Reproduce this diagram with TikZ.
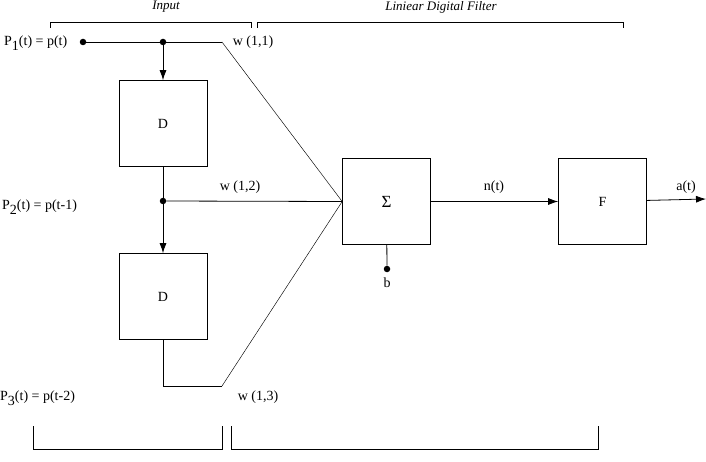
\documentclass[tikz,border=0pt]{standalone}
\usepackage{fontspec}
\setmainfont{Liberation Serif}
\usetikzlibrary{arrows.meta}

\begin{document}
\begin{tikzpicture}[
  x=1pt, y=-1pt,
  font=\fontsize{14}{16}\selectfont,
  block/.style={rectangle, draw, line width=0.6pt, minimum width=88pt, minimum height=86pt, inner sep=0pt},
  dot/.style={circle, fill, inner sep=0pt, minimum size=6.5pt},
  line/.style={draw, line width=0.8pt},
  arrow/.style={draw, line width=0.8pt, -{Latex[length=10pt,width=7pt]}},
  wire/.style={draw, line width=0.45pt},
  brace/.style={draw, line width=0.7pt},
  title/.style={font=\fontsize{13}{15}\selectfont\itshape}
]
\useasboundingbox (0,0) rectangle (706,462);

\node [block] (d1) at (163,123.5) {D};
\node [block] (d2) at (163,296.5) {D};
\node [block] (sum) at (386.5,201.5) {\fontsize{17}{19}\selectfont Σ};
\node [block] (f) at (602.5,201.5) {F};

\node [dot] (in) at (83,42) {};
\node [dot] (j1) at (163,42) {};
\node [dot] (j2) at (163,201) {};
\node [dot] (b) at (387,269) {};
\coordinate (k1) at (222,42);
\coordinate (k3a) at (163,386);
\coordinate (k3) at (222,386);
\coordinate (out) at (706,199);

\node [anchor=west, inner sep=0pt] (p1) at (4,43) {P\raisebox{-5pt}{1}(t) = p(t)};
\node [anchor=west, inner sep=0pt] (p2) at (2,207) {P\raisebox{-5pt}{2}(t) = p(t-1)};
\node [anchor=west, inner sep=0pt] (p3) at (0,398) {P\raisebox{-5pt}{3}(t) = p(t-2)};
\node (w11) at (253,42) {w (1,1)};
\node (w12) at (240,187) {w (1,2)};
\node (w13) at (258,397) {w (1,3)};
\node (nt) at (494,187) {n(t)};
\node (at) at (686,187) {a(t)};
\node (bl) at (387,283) {b};
\node [title] (inp) at (166,7) {Input};
\node [title] (ldf) at (441,7) {Liniear Digital Filter};

\path [line] (in) -- (j1) -- (k1);
\path [wire] (k1) -- (sum.west);
\path [arrow] (j1) -- (d1);
\path [line] (d1) -- (j2);
\path [arrow] (j2) -- (d2);
\path [line] (j2) -- (sum.west);
\path [line] (d2) -- (k3a) -- (k3);
\path [wire] (k3) -- (sum.west);
\path [line] (sum) -- (b);
\path [arrow] (sum) -- (f);
\path [arrow] (f) -- (out);

\draw [brace] (50,28) -- (50,22) -- (251,22) -- (251,28);
\draw [brace] (257,28) -- (257,22) -- (623,22) -- (623,28);
\draw [brace] (33,426) -- (33,449) -- (222,449) -- (222,426);
\draw [brace] (231,426) -- (231,449) -- (598,449) -- (598,426);

\end{tikzpicture}
\end{document}
